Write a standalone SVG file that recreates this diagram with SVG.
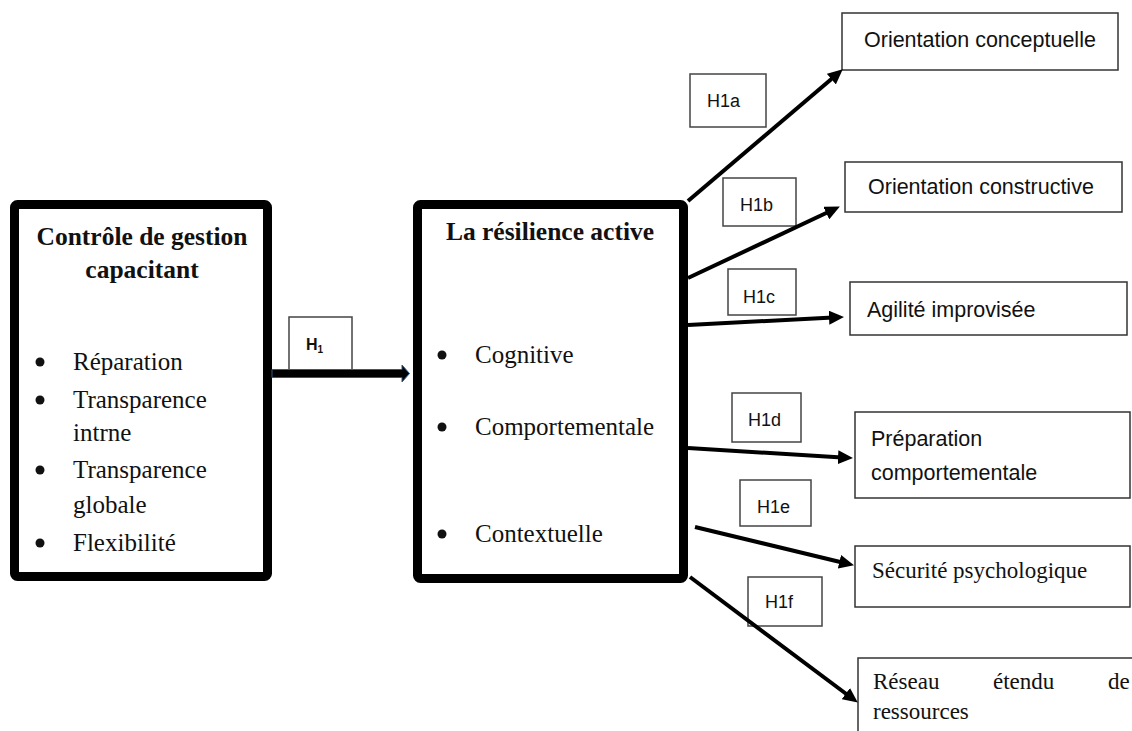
<svg xmlns="http://www.w3.org/2000/svg" width="1132" height="731" viewBox="0 0 1132 731">
<style>
.main{fill:#fff;stroke:#000;stroke-width:9}
.tbox{fill:#fff;stroke:#333;stroke-width:1.5}
.lbl{fill:#fff;stroke:#444;stroke-width:1.5}
.ttl{font-family:"Liberation Serif",serif;font-weight:bold;font-size:25.5px;fill:#111;text-anchor:middle}
.ser{font-family:"Liberation Serif",serif;font-size:25px;fill:#111}
.ser23{font-family:"Liberation Serif",serif;font-size:23px;fill:#111}
.sans{font-family:"Liberation Sans",sans-serif;font-size:21.5px;fill:#111}
.lt{font-family:"Liberation Sans",sans-serif;font-size:18px;fill:#111}
.conn{stroke:#000;stroke-width:4;fill:none;marker-end:url(#ah)}
</style>
<defs>
<marker id="ah" markerUnits="userSpaceOnUse" markerWidth="16" markerHeight="14" refX="4" refY="7" orient="auto">
<path d="M0,0 L15,7 L0,14 z" fill="#000"/>
</marker>
</defs>
<rect width="1132" height="731" fill="#fff"/>

<g id="node-controle">
<rect class="main" x="14.5" y="204.5" width="253" height="372" rx="3"/>
<text class="ttl" x="142" y="245">Contrôle de gestion</text>
<text class="ttl" x="142" y="278">capacitant</text>
<circle cx="40" cy="362" r="4.5" fill="#111"/><text class="ser" x="73" y="370">Réparation</text>
<circle cx="40" cy="400" r="4.5" fill="#111"/><text class="ser" x="73" y="408">Transparence</text>
<text class="ser" x="73" y="441">intrne</text>
<circle cx="40" cy="470" r="4.5" fill="#111"/><text class="ser" x="73" y="478">Transparence</text>
<text class="ser" x="73" y="513">globale</text>
<circle cx="40" cy="543" r="4.5" fill="#111"/><text class="ser" x="73" y="551">Flexibilité</text>
</g>

<g id="node-resilience">
<rect class="main" x="417.5" y="204.5" width="266" height="374" rx="3"/>
<text class="ttl" x="550" y="240">La résilience active</text>
<circle cx="442" cy="355" r="4.5" fill="#111"/><text class="ser" x="475" y="363">Cognitive</text>
<circle cx="442" cy="427" r="4.5" fill="#111"/><text class="ser" x="475" y="435">Comportementale</text>
<circle cx="442" cy="534" r="4.5" fill="#111"/><text class="ser" x="475" y="542">Contextuelle</text>
</g>

<g id="node-orientation-conceptuelle">
<rect class="tbox" x="842" y="13" width="276" height="57"/>
<text class="sans" x="864" y="47">Orientation conceptuelle</text>
</g>
<g id="node-orientation-constructive">
<rect class="tbox" x="845" y="162" width="277" height="50"/>
<text class="sans" x="868" y="194">Orientation constructive</text>
</g>
<g id="node-agilite">
<rect class="tbox" x="850" y="282" width="277" height="53"/>
<text class="sans" x="867" y="317">Agilité improvisée</text>
</g>
<g id="node-preparation">
<rect class="tbox" x="855" y="412" width="275" height="86"/>
<text class="sans" x="871" y="446">Préparation</text>
<text class="sans" x="871" y="480">comportementale</text>
</g>
<g id="node-securite">
<rect class="tbox" x="855" y="546" width="275" height="61"/>
<text class="ser23" x="872" y="578">Sécurité psychologique</text>
</g>
<g id="node-reseau">
<rect class="tbox" x="858" y="658" width="280" height="80"/>
<text class="ser23" x="873" y="689">Réseau</text>
<text class="ser23" x="993" y="689">étendu</text>
<text class="ser23" x="1108" y="689">de</text>
<text class="ser23" x="873" y="719">ressources</text>
</g>

<g id="connectors">
<g id="labels">
<rect class="lbl" x="289" y="317" width="63" height="53"/>
<text font-family="Liberation Sans,sans-serif" font-weight="bold" font-size="16" fill="#111" x="306" y="350">H<tspan font-size="10" dy="3">1</tspan></text>
<rect class="lbl" x="690" y="74" width="76" height="53"/><text class="lt" x="707" y="107">H1a</text>
<rect class="lbl" x="723" y="178" width="73" height="48"/><text class="lt" x="740" y="211">H1b</text>
<rect class="lbl" x="728" y="269" width="68" height="46"/><text class="lt" x="743" y="303">H1c</text>
<rect class="lbl" x="732" y="393" width="69" height="49"/><text class="lt" x="748" y="426">H1d</text>
<rect class="lbl" x="740" y="480" width="71" height="46"/><text class="lt" x="757" y="513">H1e</text>
<rect class="lbl" x="748" y="577" width="74" height="49"/><text class="lt" x="765" y="608">H1f</text>
</g>
<path d="M272,369.5 L402,369.5 L402,365 L409.5,373.5 L402,382 L402,377.5 L272,377.5 Z" fill="#000" stroke="#2e5a88" stroke-width="1"/>
<line class="conn" x1="688" y1="201" x2="834.4" y2="76.5"/>
<line class="conn" x1="688" y1="278" x2="829.9" y2="211.3"/>
<line class="conn" x1="688" y1="325" x2="833" y2="317.5"/>
<line class="conn" x1="688" y1="448" x2="842" y2="457.4"/>
<line class="conn" x1="695" y1="527" x2="843.3" y2="562.7"/>
<line class="conn" x1="690" y1="577" x2="849" y2="696"/>
</g>
</svg>
